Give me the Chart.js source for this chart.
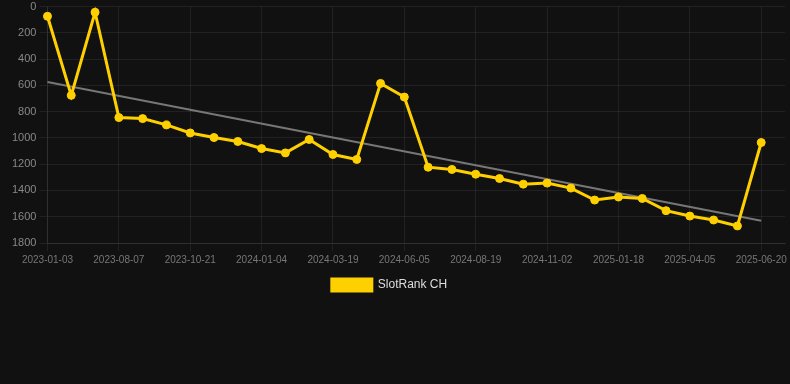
<!DOCTYPE html>
<html>
<head>
<meta charset="utf-8">
<script src="https://cdn.jsdelivr.net/npm/chart.js@4/dist/chart.umd.min.js"></script>
<style>
  html, body { margin: 0; padding: 0; background: #111111; }
  #wrap { width: 790px; height: 301px; position: relative; }
</style>
</head>
<body>
<div id="wrap"><canvas id="c"></canvas></div>
<script>
const categories = [
  '2023-01-03','2023-06-18','2023-07-13','2023-08-07','2023-09-01','2023-09-26','2023-10-21',
  '2023-11-15','2023-12-10','2024-01-04','2024-01-29','2024-02-23','2024-03-19','2024-04-14',
  '2024-05-10','2024-06-05','2024-06-30','2024-07-25','2024-08-19','2024-09-13','2024-10-08',
  '2024-11-02','2024-11-28','2024-12-23','2025-01-18','2025-02-13','2025-03-11','2025-04-05',
  '2025-04-30','2025-05-26','2025-06-20',''
];
const rankValues = [
  74, 676, 43, 845, 853, 901, 962, 997, 1027, 1081, 1114, 1012, 1126, 1164, 585, 689,
  1223, 1240, 1276, 1309, 1352, 1344, 1382, 1473, 1450, 1461, 1554, 1595, 1625, 1670, 1035, null
];
const trendValues = [575, null, null, null, null, null, null, null, null, null, null, null, null, null, null, null,
  null, null, null, null, null, null, null, null, null, null, null, null, null, null, 1630, null];
const yTicks = [0, 200, 400, 600, 800, 1000, 1200, 1400, 1600, 1800];

const gridColor = 'rgba(255,255,255,0.07)';
const legendShift = {
  id: 'legendShift',
  afterLayout(chart) {
    if (chart.legend) { chart.legend.left -= 8; chart.legend.right -= 8; }
  }
};
new Chart(document.getElementById('c'), {
  type: 'line',
  plugins: [legendShift],
  data: {
    labels: categories,
    datasets: [
      {
        label: 'SlotRank CH',
        data: rankValues,
        borderColor: '#FFD000',
        backgroundColor: '#FFD000',
        borderWidth: 3,
        pointRadius: 4,
        pointBorderWidth: 1,
        pointBackgroundColor: '#FFD000',
        pointBorderColor: '#FFD000',
        tension: 0,
        order: 1
      },
      {
        label: 'trend',
        data: trendValues,
        borderColor: '#777777',
        borderWidth: 2,
        pointRadius: 0,
        spanGaps: true,
        order: 2
      }
    ]
  },
  options: {
    responsive: true,
    maintainAspectRatio: false,
    animation: false,
    layout: { padding: { left: 9, right: 4, top: 0, bottom: 0 } },
    plugins: {
      legend: {
        position: 'bottom',
        labels: {
          color: '#dddddd',
          font: { family: 'Liberation Sans, Arial, sans-serif', size: 12 },
          boxWidth: 40,
          boxHeight: 12,
          filter: (item) => item.text !== 'trend'
        }
      },
      tooltip: { enabled: false }
    },
    scales: {
      x: {
        type: 'category',
        offset: false,
        grid: {
          color: (ctx) => (ctx.index % 3 === 0 && ctx.index <= 30) ? gridColor : 'transparent',
          tickLength: 8
        },
        border: { color: gridColor },
        ticks: {
          autoSkip: false,
          maxRotation: 0,
          color: '#777777',
          font: { family: 'Liberation Sans, Arial, sans-serif', size: 10 },
          callback: function(v, i) { return (i % 3 === 0) ? categories[i] : ''; }
        }
      },
      y: {
        reverse: true,
        min: 0,
        max: 1800,
        afterBuildTicks: (axis) => { axis.ticks = yTicks.map(v => ({ value: v })); },
        grid: { color: gridColor, tickLength: 8 },
        border: { color: gridColor },
        ticks: {
          color: '#888888',
          font: { family: 'Liberation Sans, Arial, sans-serif', size: 11, lineHeight: 0.65 },
          callback: (v) => String(v)
        }
      }
    }
  }
});
</script>
</body>
</html>
